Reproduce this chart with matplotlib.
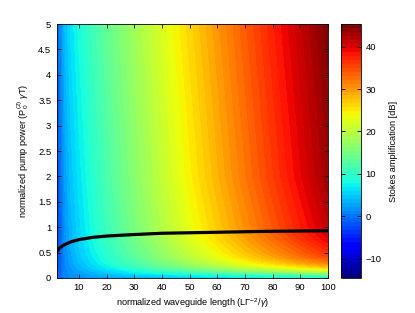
import matplotlib
matplotlib.use('Agg')
import matplotlib.pyplot as plt
import numpy as np

plt.rcParams['font.family'] = ['Liberation Sans', 'DejaVu Sans']
plt.rcParams['mathtext.fontset'] = 'custom'
plt.rcParams['mathtext.rm'] = 'Liberation Sans'
plt.rcParams['mathtext.it'] = 'Liberation Sans:italic'

# normalized waveguide length (grid columns)
length = [2, 3, 5, 7, 10, 15, 20, 30, 40, 50, 60, 70, 80, 90, 100]
# normalized pump power (grid rows)
power = [0, 0.05, 0.1, 0.2, 0.3, 0.4, 0.5, 0.75, 1.0, 2.0, 5.0]
# Stokes amplification [dB], one row per pump power
gain_db = [
    [-1.2, -0.5, 0.8, 1.4, 1.9, 2.5, 3.0, 3.9, 4.7, 5.4, 6.0, 6.5, 7.1, 7.5, 8.0],
    [-1.2, -0.5, 0.8, 1.5, 2.1, 2.8, 3.5, 4.8, 6.0, 7.0, 8.0, 9.0, 10.0, 11.0, 12.0],
    [-2.0, -0.9, 0.9, 1.8, 2.6, 3.8, 5.0, 7.0, 8.8, 10.4, 12.0, 13.4, 14.8, 16.2, 17.5],
    [-3.3, -1.4, 1.1, 2.3, 3.6, 5.4, 7.0, 10.0, 12.8, 15.4, 17.8, 20.1, 22.3, 24.4, 26.5],
    [-3.8, -1.6, 1.3, 2.7, 4.2, 6.3, 8.3, 11.8, 15.0, 18.0, 20.9, 23.7, 26.5, 29.2, 31.8],
    [-4.0, -1.7, 1.4, 2.9, 4.6, 6.9, 9.0, 12.8, 16.3, 19.6, 22.8, 25.9, 28.9, 31.9, 34.8],
    [-4.1, -1.7, 1.5, 3.12, 4.9, 7.3, 9.5, 13.4, 17.0, 20.5, 23.9, 27.2, 30.4, 33.5, 36.6],
    [-4.2, -1.6, 1.8, 3.53, 5.38, 7.97, 10.27, 14.43, 18.30, 21.99, 25.59, 29.10, 32.57, 35.99, 39.37],
    [-4.1, -1.5, 2.0, 3.79, 5.72, 8.43, 10.82, 15.17, 19.21, 23.07, 26.84, 30.51, 34.14, 37.73, 41.28],
    [-3.6, -1.0, 2.6, 4.49, 6.47, 9.26, 11.73, 16.21, 20.38, 24.37, 28.26, 32.06, 35.81, 39.52, 43.19],
    [-2.0, 0.6, 4.4, 6.29, 8.27, 11.06, 13.53, 18.01, 22.18, 26.17, 30.06, 33.86, 37.61, 41.32, 44.99],
]

# black curve
curve_x = [2, 3, 4, 5, 7, 10, 15, 20, 25, 30, 40, 50, 60, 70, 80, 90, 100]
curve_y = [0.53, 0.59, 0.63, 0.66, 0.71, 0.755, 0.80, 0.825, 0.84, 0.855, 0.88, 0.89, 0.90, 0.91, 0.92, 0.925, 0.93]

vmin, vmax = -14.5, 45.3
cmap = plt.get_cmap('jet', 64)
norm = matplotlib.colors.Normalize(vmin=vmin, vmax=vmax)

fig = plt.figure(figsize=(4.15, 3.13), dpi=100)
ax = fig.add_axes([0.137, 0.112, 0.653, 0.811])
cax = fig.add_axes([0.822, 0.112, 0.0475, 0.811])

levels = np.linspace(vmin, vmax, 65)
ax.contourf(length, power, np.array(gain_db), levels=levels, cmap=cmap, norm=norm, antialiased=False)
ax.plot(curve_x, curve_y, color='black', linewidth=2.3)

ax.set_xlim(2, 100)
ax.set_ylim(0, 5)
ax.set_xticks(range(10, 101, 10))
ax.set_yticks(np.arange(0, 5.01, 0.5))
ax.set_yticklabels(['0', '0.5', '1', '1.5', '2', '2.5', '3', '3.5', '4', '4.5', '5'])
ax.tick_params(direction='in', top=True, right=True, labelsize=6.8, length=3, width=0.6, pad=4)
for s in ax.spines.values():
    s.set_linewidth(0.6)
ax.set_xlabel(r'normalized waveguide length (L$\Gamma^{-2}$/$\gamma$)', fontsize=6.6, labelpad=3)
ax.set_ylabel(r'normalized pump power (P$_0^{(2)}$ $\gamma$T)', fontsize=6.6, labelpad=5)

sm = matplotlib.cm.ScalarMappable(norm=norm, cmap=cmap)
cb = fig.colorbar(sm, cax=cax, ticks=[-10, 0, 10, 20, 30, 40])
cb.outline.set_linewidth(0.6)
cax.tick_params(direction='in', left=True, right=True, labelsize=6.8, length=3, width=0.6)
cb.set_label('Stokes amplification [dB]', fontsize=6.6, labelpad=5)

plt.savefig('out.png', dpi=100)
